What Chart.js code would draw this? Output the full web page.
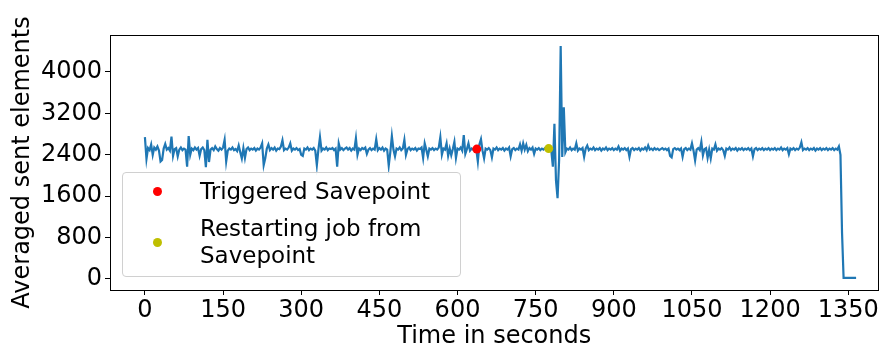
<!DOCTYPE html>
<html>
<head>
<meta charset="utf-8">
<script src="https://cdn.jsdelivr.net/npm/chart.js@4"></script>
<style>
  body { margin: 0; background: #fff; }
  #wrap { position: relative; width: 883px; height: 351px; }
  #legend {
    position: absolute; left: 122px; top: 172px; width: 337px; height: 103px;
    border: 1px solid #d0d0d0; border-radius: 4px; background: rgba(255,255,255,0.8);
    font-family: 'DejaVu Sans'; font-size: 23px; color: #000; line-height: 27px;
  }
  .item { position: absolute; left: 0; }
  .dot { position: absolute; left: 30px; width: 9px; height: 9px; border-radius: 50%; }
  .txt { position: absolute; left: 77px; white-space: nowrap; }
</style>
</head>
<body>
<div id="wrap">
  <canvas id="chart" width="883" height="351"></canvas>
  <div id="legend">
    <div class="item" style="top:5px"><span class="dot" style="top:9px;background:#ff0000"></span><span class="txt" style="top:0">Triggered Savepoint</span></div>
    <div class="item" style="top:42px"><span class="dot" style="top:23px;background:#bfbf00"></span><span class="txt" style="top:0">Restarting job from<br>Savepoint</span></div>
  </div>
</div>
<script>
// Averaged sent elements, one reading every 3 seconds (0 .. 1365 s)
const timeStep = 3;
const sentElements = [
  // 0-57 s
  2740, 2320, 2530, 2490, 2600, 2400, 2540, 2500, 2560, 2480, 2270, 2300, 2520, 2610, 2500, 2530, 2480, 2750, 2380, 2510,
  // 60-117 s
  2530, 2370, 2500, 2540, 2490, 2520, 2500, 2170, 2760, 2400, 2520, 2490, 2540, 2500, 2530, 2380, 2510, 2540, 2490, 2160,
  // 120-177 s
  2690, 2260, 2500, 2530, 2490, 2560, 2510, 2480, 2530, 2500, 2540, 2690, 2270, 2480, 2520, 2500, 2540, 2490, 2510, 2470,
  // 180-237 s
  2580, 2450, 2330, 2530, 2340, 2510, 2540, 2490, 2520, 2500, 2530, 2480, 2520, 2500, 2540, 2620, 2200, 2330, 2520, 2600,
  // 240-297 s
  2490, 2530, 2500, 2540, 2480, 2520, 2510, 2560, 2680, 2490, 2520, 2500, 2540, 2620, 2480, 2520, 2500, 2530, 2490, 2510,
  // 300-357 s
  2400, 2380, 2520, 2500, 2540, 2490, 2520, 2500, 2530, 2480, 2200, 2500, 2740, 2480, 2520, 2500, 2540, 2490, 2520, 2510,
  // 360-417 s
  2530, 2490, 2520, 2170, 2620, 2500, 2530, 2490, 2520, 2540, 2500, 2530, 2480, 2520, 2500, 2720, 2400, 2520, 2490, 2530,
  // 420-477 s
  2510, 2540, 2420, 2500, 2530, 2490, 2520, 2500, 2700, 2490, 2530, 2500, 2540, 2480, 2520, 2500, 2190, 2450, 2760, 2500,
  // 480-537 s
  2370, 2520, 2500, 2540, 2490, 2520, 2690, 2400, 2510, 2540, 2490, 2520, 2500, 2530, 2480, 2520, 2510, 2540, 2340, 2620,
  // 540-597 s
  2500, 2370, 2520, 2500, 2530, 2490, 2520, 2500, 2540, 2740, 2400, 2520, 2500, 2620, 2380, 2520, 2390, 2510, 2650, 2340,
  // 600-657 s
  2520, 2500, 2540, 2480, 2780, 2420, 2510, 2620, 2480, 2520, 2500, 2530, 2510, 2270, 2600, 2700, 2480, 2330, 2520, 2500,
  // 660-717 s
  2530, 2490, 2350, 2520, 2500, 2540, 2490, 2520, 2500, 2530, 2480, 2520, 2500, 2540, 2370, 2510, 2530, 2490, 2520, 2500,
  // 720-777 s
  2600, 2480, 2620, 2500, 2590, 2470, 2530, 2500, 2540, 2420, 2520, 2500, 2530, 2490, 2520, 2500, 2530, 2510, 2520, 2500,
  // 780-837 s (restart disturbance)
  2480, 2170, 3000, 1900, 1560, 2300, 4500, 2360, 3320, 2450, 2520, 2500, 2540, 2490, 2520, 2500, 2620, 2480, 2520, 2500,
  // 840-897 s
  2530, 2360, 2520, 2580, 2490, 2520, 2500, 2540, 2490, 2520, 2500, 2530, 2480, 2520, 2500, 2540, 2490, 2520, 2500, 2530,
  // 900-957 s
  2490, 2520, 2500, 2560, 2480, 2520, 2500, 2530, 2490, 2520, 2360, 2510, 2530, 2490, 2520, 2500, 2530, 2480, 2520, 2500,
  // 960-1017 s
  2540, 2490, 2580, 2500, 2520, 2490, 2530, 2500, 2520, 2490, 2510, 2530, 2500, 2520, 2490, 2520, 2380, 2350, 2510, 2530,
  // 1020-1077 s
  2500, 2520, 2490, 2520, 2360, 2510, 2530, 2490, 2520, 2500, 2620, 2480, 2290, 2500, 2530, 2490, 2650, 2390, 2510, 2530,
  // 1080-1137 s
  2340, 2500, 2330, 2520, 2500, 2600, 2480, 2520, 2500, 2530, 2490, 2380, 2520, 2500, 2540, 2490, 2520, 2500, 2530, 2480,
  // 1140-1197 s
  2520, 2500, 2530, 2490, 2520, 2500, 2530, 2490, 2520, 2370, 2510, 2530, 2490, 2520, 2500, 2530, 2490, 2520, 2500, 2530,
  // 1200-1257 s
  2490, 2520, 2500, 2530, 2490, 2520, 2500, 2540, 2490, 2520, 2500, 2530, 2410, 2520, 2500, 2530, 2490, 2520, 2500, 2540,
  // 1260-1317 s
  2640, 2490, 2520, 2500, 2530, 2490, 2520, 2500, 2530, 2480, 2520, 2500, 2530, 2490, 2520, 2500, 2530, 2490, 2520, 2500,
  // 1320-1365 s (job ends)
  2530, 2490, 2520, 2500, 2560, 2400, 900, 20, 20, 20, 20, 20, 20, 20, 20, 20
];

// Savepoint markers
const triggeredTime = [637];
const triggeredValue = [2510];
const restartTime = [775];
const restartValue = [2520];

// Axis ticks
const xTicks = [0, 150, 300, 450, 600, 750, 900, 1050, 1200, 1350];
const yTicks = [0, 800, 1600, 2400, 3200, 4000];

const lineData = sentElements.map((v, i) => ({ x: i * timeStep, y: v }));
const toPoints = (xs, ys) => xs.map((x, i) => ({ x: x, y: ys[i] }));

// Draws the full axes frame like matplotlib spines
const framePlugin = {
    id: 'frame',
    afterDraw(chart) {
        const a = chart.chartArea;
        const ctx = chart.ctx;
        ctx.save();
        ctx.strokeStyle = '#000';
        ctx.lineWidth = 1;
        ctx.strokeRect(Math.round(a.left) + 0.5, Math.round(a.top) + 0.5,
            Math.round(a.right - a.left) - 1, Math.round(a.bottom - a.top));
        ctx.restore();
    }
};

Chart.defaults.font.family = "'DejaVu Sans'";
Chart.defaults.color = '#000';

new Chart(document.getElementById('chart'), {
    type: 'line',
    data: {
        datasets: [
            {
                label: 'Triggered Savepoint',
                data: toPoints(triggeredTime, triggeredValue),
                showLine: false,
                pointRadius: 4.5,
                pointBackgroundColor: '#ff0000',
                pointBorderWidth: 0
            },
            {
                label: 'Restarting job from Savepoint',
                data: toPoints(restartTime, restartValue),
                showLine: false,
                pointRadius: 4.5,
                pointBackgroundColor: '#bfbf00',
                pointBorderWidth: 0
            },
            {
                label: 'Averaged sent elements',
                data: lineData,
                borderColor: '#1f77b4',
                borderWidth: 2.2,
                pointRadius: 0,
                tension: 0,
                fill: false
            }
        ]
    },
    options: {
        responsive: false,
        animation: false,
        devicePixelRatio: 1,
        layout: { padding: { top: 35, right: 2, left: 0, bottom: 0 } },
        plugins: {
            legend: { display: false },
            tooltip: { enabled: false }
        },
        scales: {
            x: {
                type: 'linear',
                min: -67,
                max: 1408,
                afterBuildTicks: scale => { scale.ticks = xTicks.map(v => ({ value: v })); },
                afterFit: scale => { scale.height = 61; },
                ticks: { font: { size: 24 }, padding: 1, maxRotation: 0, autoSkip: false, callback: v => String(v) },
                grid: { display: true, drawOnChartArea: false, tickLength: 5, tickColor: '#000' },
                border: { color: '#000' },
                title: { display: true, text: 'Time in seconds', font: { size: 24 }, padding: { top: -1, bottom: 0 } }
            },
            y: {
                type: 'linear',
                min: -213,
                max: 4715,
                afterBuildTicks: scale => { scale.ticks = yTicks.map(v => ({ value: v })); },
                afterFit: scale => { scale.width = 110; },
                ticks: { font: { size: 24 }, padding: 3, autoSkip: false, callback: v => String(v) },
                grid: { display: true, drawOnChartArea: false, tickLength: 5, tickColor: '#000' },
                border: { color: '#000' },
                title: { display: true, text: 'Averaged sent elements', font: { size: 24 }, padding: { top: 8, bottom: 0 } }
            }
        }
    },
    plugins: [framePlugin]
});
</script>
</body>
</html>
